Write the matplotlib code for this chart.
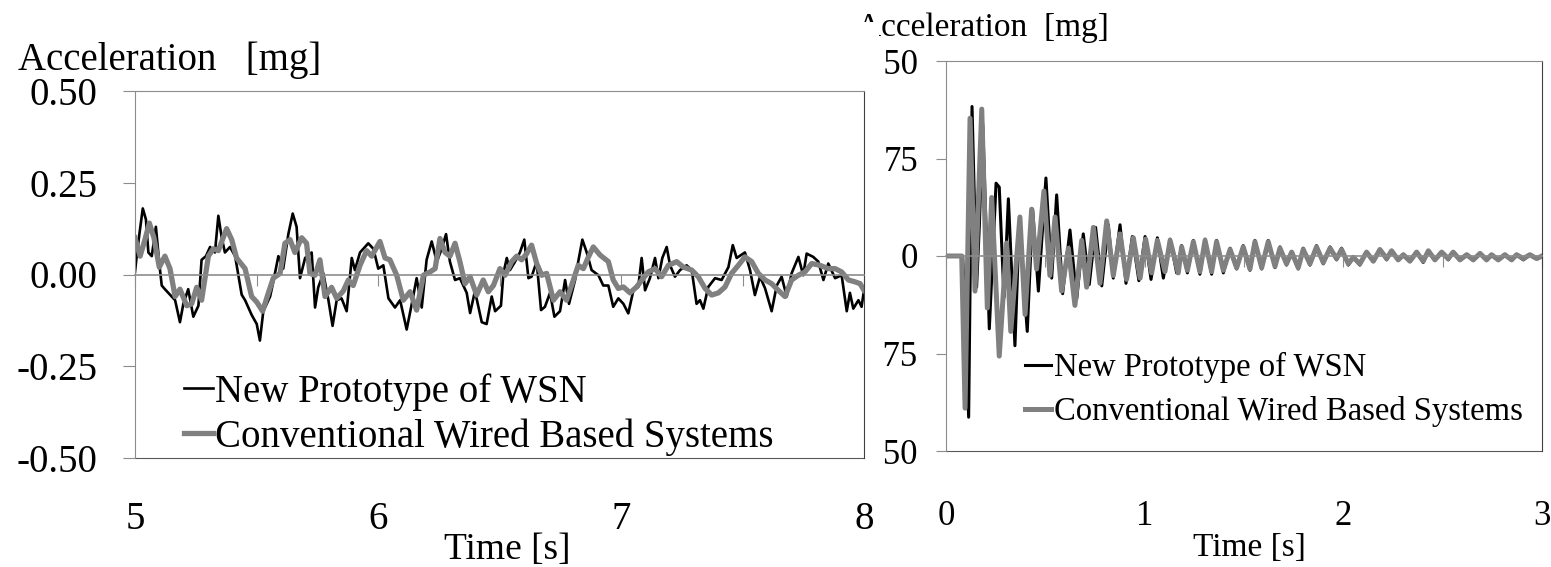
import matplotlib.pyplot as plt
from matplotlib.patches import Rectangle

plt.rcParams['font.family'] = ['Liberation Serif', 'DejaVu Serif']
plt.rcParams['axes.unicode_minus'] = False

# ---- left panel: 5 - 8 s ----
t_wsn_a = [5.000, 5.007, 5.018, 5.032, 5.045, 5.055, 5.069, 5.086, 5.100, 5.110,
           5.123, 5.137, 5.165, 5.185, 5.199, 5.219, 5.240, 5.261, 5.274, 5.292,
           5.309, 5.329, 5.343, 5.357, 5.370, 5.391, 5.412, 5.439, 5.453, 5.480,
           5.501, 5.514, 5.528, 5.556, 5.569, 5.590, 5.610, 5.631, 5.649, 5.665,
           5.679, 5.700, 5.727, 5.741, 5.754, 5.775, 5.796, 5.813, 5.830, 5.850,
           5.871, 5.892, 5.905, 5.926, 5.960, 5.981, 6.001, 6.022, 6.043, 6.070,
           6.091, 6.118, 6.139, 6.159, 6.180, 6.200, 6.221, 6.242, 6.262, 6.280,
           6.296, 6.317, 6.337, 6.365, 6.379, 6.399, 6.427, 6.447, 6.468,
           6.482, 6.506, 6.516, 6.530, 6.543, 6.564, 6.584, 6.602, 6.619, 6.632,
           6.653, 6.671, 6.687, 6.708, 6.726, 6.749, 6.770, 6.786, 6.811, 6.824,
           6.841, 6.859, 6.879, 6.907, 6.927, 6.948, 6.968, 6.989, 7.010, 7.030,
           7.051, 7.071, 7.085, 7.099, 7.119, 7.140, 7.154, 7.170, 7.188, 7.202,
           7.222, 7.243, 7.270, 7.291, 7.311, 7.325, 7.339, 7.359, 7.387, 7.414,
           7.442, 7.460, 7.476, 7.510, 7.531, 7.551, 7.572, 7.593, 7.620, 7.641,
           7.661, 7.682, 7.702, 7.730, 7.750, 7.764, 7.791, 7.812, 7.833, 7.853,
           7.881, 7.908, 7.929, 7.942, 7.956, 7.977, 7.990, 8.000]
a_wsn_a = [0.007, 0.05, 0.11, 0.18, 0.15, 0.06, 0.05, 0.13, 0.03, -0.03,
           -0.04, -0.05, -0.07, -0.13, -0.08, -0.04, -0.115, -0.085, 0.04, 0.05,
           0.075, 0.06, 0.16, 0.10, 0.06, 0.075, 0.05, -0.055, -0.07, -0.11,
           -0.135, -0.18, -0.10, -0.06, -0.02, 0.05, 0.016, 0.11, 0.166, 0.13,
           -0.01, 0.045, 0.06, -0.09, -0.035, 0.003, -0.07, -0.14, -0.07, -0.065,
           -0.10, 0.045, 0.012, 0.06, 0.085, 0.07, 0.016, 0.025, -0.065, -0.09,
           -0.07, -0.15, -0.08, -0.01, -0.09, 0.04, 0.09, 0.035, 0.07, 0.11,
           0.035, -0.015, -0.01, -0.05, -0.105, -0.045, -0.13, -0.135, -0.06,
           -0.10, -0.085, 0.003, 0.045, 0.012, 0.035, 0.06, 0.095, -0.01, -0.006,
           0.035, -0.097, -0.088, -0.05, -0.115, -0.10, -0.015, -0.08, -0.015, 0.035,
           0.095, 0.06, 0.012, -0.002, -0.03, -0.03, -0.088, -0.065, -0.08, -0.106,
           -0.043, -0.034, 0.045, -0.043, -0.01, 0.045, -0.01, 0.045, 0.075, 0.025,
           -0.006, 0.012, 0.025, 0.012, -0.08, -0.07, -0.093, -0.034, -0.01, -0.015,
           0.02, 0.08, 0.045, 0.06, 0.012, -0.056, -0.006, -0.038, -0.10, -0.03,
           -0.006, -0.06, 0.003, 0.048, -0.002, 0.057, 0.048, 0.035, -0.015, 0.03,
           -0.01, -0.002, -0.10, -0.05, -0.093, -0.07, -0.088, -0.043]

t_wired_a = [5.000, 5.021, 5.041, 5.059, 5.078, 5.100, 5.123, 5.144, 5.165, 5.185,
             5.213, 5.233, 5.254, 5.274, 5.302, 5.322, 5.343, 5.377, 5.398, 5.418,
             5.453, 5.480, 5.501, 5.525, 5.549, 5.569, 5.597, 5.617, 5.638, 5.658,
             5.686, 5.706, 5.720, 5.741, 5.761, 5.782, 5.809, 5.830, 5.857, 5.878,
             5.898, 5.926, 5.953, 5.974, 6.008, 6.029, 6.049, 6.077, 6.104, 6.132,
             6.159, 6.187, 6.214, 6.235, 6.255, 6.276, 6.296, 6.317, 6.337, 6.358,
             6.379, 6.406, 6.433, 6.454, 6.475,
             6.502, 6.523, 6.550, 6.571, 6.591, 6.612, 6.632, 6.653, 6.674, 6.694,
             6.722, 6.749, 6.776, 6.804, 6.824, 6.845, 6.866, 6.886, 6.914, 6.948,
             6.968, 6.989, 7.010, 7.037, 7.064, 7.092, 7.112, 7.140, 7.167, 7.195,
             7.229, 7.257, 7.291, 7.318, 7.346, 7.373, 7.401, 7.428, 7.455, 7.483,
             7.510, 7.538, 7.565, 7.593, 7.620, 7.647, 7.675, 7.702, 7.730, 7.757,
             7.785, 7.819, 7.853, 7.881, 7.908, 7.936, 7.963, 7.984, 8.000]
a_wired_a = [0.10, 0.05, 0.095, 0.14, 0.10, 0.02, 0.05, 0.016, -0.06, -0.04,
             -0.085, -0.08, -0.035, -0.07, 0.05, 0.07, 0.065, 0.125, 0.095, 0.045,
             0.016, -0.06, -0.075, -0.10, -0.05, -0.01, 0.003, 0.085, 0.095, 0.06,
             0.10, 0.085, 0.003, -0.002, 0.04, -0.06, -0.035, -0.065, -0.045, -0.015,
             -0.03, 0.025, 0.065, 0.05, 0.09, 0.045, 0.04, -0.002, -0.07, -0.047,
             -0.097, -0.002, 0.007, 0.016, 0.098, 0.06, 0.05, 0.085, 0.035, -0.025,
             -0.006, -0.056, -0.015, -0.047, -0.03,
             0.016, -0.002, 0.035, 0.05, 0.04, 0.057, 0.08, 0.03, -0.002, 0.003,
             -0.07, -0.047, -0.07, -0.015, 0.025, 0.016, 0.048, 0.075, 0.053, 0.035,
             -0.015, -0.038, -0.034, -0.05, -0.034, -0.01, 0.007, 0.016, -0.006, 0.025,
             0.035, 0.02, 0.012, -0.006, -0.038, -0.056, -0.05, -0.034, 0.003, 0.025,
             0.048, 0.035, 0.003, -0.015, -0.025, -0.043, -0.06, -0.015, -0.002, 0.007,
             0.03, 0.025, 0.016, 0.016, 0.007, -0.015, -0.02, -0.025, -0.043]

# ---- right panel: 0 - 3 s ----
t_tail_b = [1.186, 1.215, 1.245, 1.278, 1.304, 1.337, 1.362, 1.396, 1.430, 1.463,
            1.496, 1.530, 1.555, 1.589, 1.622, 1.656, 1.681, 1.714, 1.740, 1.773,
            1.798, 1.832, 1.865, 1.899, 1.933, 1.966, 1.991, 2.025, 2.050, 2.083,
            2.117, 2.151, 2.184, 2.218, 2.243, 2.276, 2.302, 2.335, 2.369, 2.402,
            2.428, 2.461, 2.495, 2.528, 2.553, 2.587, 2.621, 2.654, 2.688, 2.721,
            2.746, 2.780, 2.813, 2.847, 2.872, 2.906, 2.939, 2.973, 3.000]

t_wsn_b = [0.000, 0.084, 0.114, 0.131, 0.154, 0.168, 0.185, 0.218, 0.252, 0.268,
           0.292, 0.314, 0.347, 0.369, 0.409, 0.436, 0.465, 0.503, 0.532, 0.557,
           0.587, 0.624, 0.658, 0.691, 0.721, 0.753, 0.784, 0.817, 0.842, 0.876,
           0.906, 0.938, 0.971, 1.002, 1.032, 1.064, 1.094, 1.128, 1.161] + t_tail_b
a_wsn_b = [0, 0, -124, 115, -24, 24, 101, -56, 56, 53,
           -32, 44, -69, 26, -58, 36, -27, 60, -17, 47,
           -29, 20, -33, 17, -22, 22, -23, 24, -17, 24,
           -21, 15, -19, 15, -18, 14, -17, 13, -13,
           8, -13, 12, -14, 13, -14, 12, -13, 6, -10,
           8, -11, 12, -10, 12, -9, 7, -7, 3, -10,
           6, -7, 8, -6, 7, -3, 6, -7, -1, -7,
           3, -4, 5, -3, 4, -3, 1, -4, 3, -5,
           4, -3, 3, -3, 3, -3, 1, -3, 2, -3,
           1, -3, 1, -3, 1, -3, 1, -2, 0]

t_wired_b = [0.000, 0.079, 0.096, 0.121, 0.146, 0.180, 0.208, 0.230, 0.268, 0.305,
             0.326, 0.372, 0.398, 0.431, 0.456, 0.493, 0.523, 0.549, 0.582, 0.616,
             0.649, 0.683, 0.708, 0.742, 0.775, 0.809, 0.842, 0.876, 0.909, 0.943,
             0.977, 1.005, 1.035, 1.064, 1.102, 1.128, 1.169] + t_tail_b
a_wired_b = [0, 0, -117, 106, -27, 113, -40, 45, -77, 10,
             -58, 30, -45, 36, -10, 50, -15, 30, -27, 6,
             -38, 12, -24, 22, -21, 27, -15, 17, -18, 14,
             -17, 13, -13, 12, -12, 12, -13,
             7, -11, 11, -12, 12, -12, 11, -11, 5, -9,
             7, -10, 11, -9, 11, -8, 6, -6, 3, -9,
             5, -6, 7, -5, 6, -2, 5, -6, -1, -6,
             3, -4, 5, -2, 4, -3, 1, -4, 3, -4,
             4, -3, 3, -2, 3, -3, 1, -3, 2, -3,
             1, -3, 1, -3, 1, -2, 1, -2, 0]

labels = ['New Prototype of WSN', 'Conventional Wired Based Systems']
xticks_a = [5, 6, 7, 8]
yticks_a = [-0.50, -0.25, 0.00, 0.25, 0.50]
xticks_b = [0, 1, 2, 3]
yticks_b = [-150, -75, 0, 75, 150]

GREY = '#808080'
AXGREY = '#8c8c8c'

fig = plt.figure(figsize=(15.51, 5.67), dpi=100)
W, H = 1551, 567


def px_axes(l, t, r, b):
    return fig.add_axes([l / W, 1 - b / H, (r - l) / W, (b - t) / H])


def style(ax, fs, xpad, ypad, ylen):
    ax.spines['left'].set_color(AXGREY)
    ax.spines['top'].set_color(AXGREY)
    ax.spines['right'].set_color('#404040')
    ax.spines['bottom'].set_position(('data', 0))
    ax.spines['bottom'].set_color(AXGREY)
    ax.spines['bottom'].set_linewidth(1.2)
    ax.tick_params(axis='x', direction='out', length=8, color=AXGREY,
                   labelbottom=False)
    ax.tick_params(axis='y', direction='out', length=ylen, color=AXGREY,
                   labelsize=fs, pad=ypad)
    # border below + tick labels at the bottom, like Excel "low" labels
    sec = ax.secondary_xaxis('bottom')
    sec.spines['bottom'].set_color('#595959')
    sec.tick_params(length=0, labelsize=fs, pad=xpad)
    return sec


def cover(x_right, y_top):
    fig.add_artist(Rectangle((0, 0), x_right / W, 1 - y_top / H,
                             transform=fig.transFigure, facecolor='white',
                             edgecolor='none', zorder=1))


# right panel first (drawn underneath the left image)
axb = px_axes(946, 61, 1542, 451)
axb.set_zorder(0)
axb.plot(t_wsn_b, a_wsn_b, color='black', lw=2.2, label=labels[0])
axb.plot(t_wired_b, a_wired_b, color=GREY, lw=3.6, label=labels[1])
axb.set_xlim(0, 3)
axb.set_ylim(-150, 150)
axb.set_yticks(yticks_b)
secb = style(axb, 25, 35, 13, 7)
secb.set_xticks(xticks_b)
axb.legend(loc='upper left', bbox_to_anchor=(1025 / W, 1 - 352 / H),
           bbox_transform=fig.transFigure, frameon=False, fontsize=23.5,
           handlelength=0.8, handletextpad=0.1, labelspacing=0.4,
           borderpad=0, borderaxespad=0)
fig.text(1249 / W, 1 - 548 / H, 'Time [s]', ha='center', va='center', fontsize=24)
fig.text(857 / W, 1 - 28 / H, 'Acceleration  [mg]', ha='left', va='center',
         fontsize=24, zorder=0.5)

# white background of the left image covers the edge of the right one
cover(879, 22)
cover(884, 45)

axa = px_axes(135, 91, 864, 458)
axa.set_zorder(2)
axa.plot(t_wsn_a, a_wsn_a, color='black', lw=1.9, label=labels[0])
axa.plot(t_wired_a, a_wired_a, color=GREY, lw=3.8, label=labels[1])
axa.set_xlim(5, 8)
axa.set_ylim(-0.5, 0.5)
axa.set_yticks(yticks_a)
axa.set_yticklabels(['%.2f' % v for v in yticks_a])
seca = style(axa, 28, 31, 18, 9)
seca.set_xticks(xticks_a)
axa.legend(loc='upper left', bbox_to_anchor=(184 / W, 1 - 373 / H),
           bbox_transform=fig.transFigure, frameon=False, fontsize=28,
           handlelength=0.75, handletextpad=0.05, labelspacing=0.2,
           borderpad=0, borderaxespad=0)
fig.text(507 / W, 1 - 550 / H, 'Time [s]', ha='center', va='center',
         fontsize=27, zorder=3)
fig.text(18 / W, 1 - 60 / H, 'Acceleration   [mg]', ha='left', va='center',
         fontsize=28, zorder=3)

fig.savefig('out.png', dpi=100)
